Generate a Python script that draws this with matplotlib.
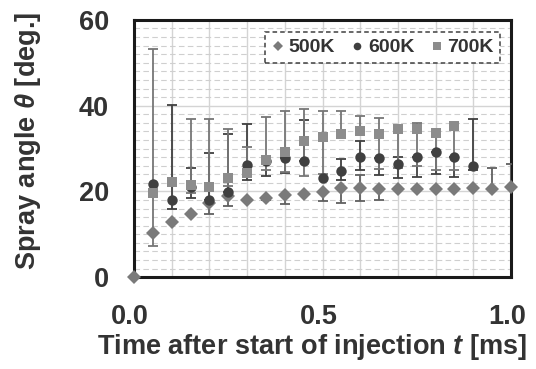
import matplotlib
matplotlib.use('Agg')
import matplotlib.pyplot as plt
import matplotlib.transforms as mtransforms
from matplotlib.lines import Line2D
import numpy as np

plt.rcParams['font.family'] = ['Liberation Sans', 'DejaVu Sans']
plt.rcParams['font.weight'] = 'bold'
plt.rcParams['mathtext.fontset'] = 'custom'
plt.rcParams['mathtext.it'] = 'Liberation Sans:italic:bold'
plt.rcParams['mathtext.rm'] = 'Liberation Sans:bold'

nan = np.nan

# time after start of injection [ms]
t = [0.0, 0.05, 0.10, 0.15, 0.20, 0.25, 0.30, 0.35, 0.40, 0.45, 0.50,
     0.55, 0.60, 0.65, 0.70, 0.75, 0.80, 0.85, 0.90, 0.95, 1.00]

# spray angle [deg.]
angle_500 = [0.0, 10.4, 12.8, 14.8, 17.3, 19.0, 18.0, 18.5, 19.1, 19.3, 19.8,
             20.9, 20.8, 20.5, 20.5, 20.5, 20.5, 20.5, 20.8, 20.5, 21.1]
angle_600 = [nan, 21.8, 17.9, 21.0, 17.9, 19.9, 26.1, 27.2, 27.9, 27.1, 23.1,
             24.8, 28.1, 27.9, 26.5, 28.1, 29.3, 28.1, 25.9, nan, nan]
angle_700 = [nan, 19.7, 22.3, 21.5, 21.1, 23.1, 24.4, 27.4, 29.3, 31.8, 32.7,
             33.5, 34.2, 33.5, 34.5, 34.5, 33.7, 35.3, nan, nan, nan]

# error bar ends (absolute values, nan = no bar on that side)
low_500 = [nan, nan, nan, nan, 14.8, 16.6, nan, 18.0, 17.0, nan, 17.8,
           17.3, 17.7, 18.0, nan, nan, nan, nan, nan, nan, nan]
high_500 = [nan, nan, nan, nan, nan, nan, nan, nan, nan, nan, nan,
            nan, 23.8, nan, nan, nan, nan, nan, nan, 25.5, 26.3]
low_600 = [nan, nan, 15.8, 18.5, nan, nan, 22.6, 23.6, 24.2, nan, nan,
           22.6, 25.0, 23.8, 23.2, 23.4, 24.0, 23.4, 25.0, nan, nan]
high_600 = [nan, nan, 40.2, 25.5, 28.9, 33.3, 35.8, nan, nan, 36.7, nan,
            27.5, 31.8, nan, 28.1, nan, nan, nan, 36.8, nan, nan]
low_700 = [nan, 7.2, nan, 19.7, nan, 21.3, nan, 25.0, 24.6, 23.6, 24.0,
           nan, nan, 25.2, 25.4, 25.9, 25.1, 25.1, nan, nan, nan]
high_700 = [nan, 53.2, nan, 36.8, 36.8, 34.5, 30.4, 37.3, 38.8, 39.3, 38.8,
            38.8, 37.7, 37.1, nan, 35.9, nan, nan, nan, nan, nan]

labels = ['500K', '600K', '700K']
markers = ['D', 'o', 's']
colors = ['#7a7a7a', '#404040', '#8c8c8c']
err_colors = ['#606060', '#404040', '#767676']
sizes = [7.5, 7.5, 7.5]

text_col = '#333333'

fig = plt.figure(figsize=(5.36, 3.69), dpi=100)
ax = fig.add_axes([0.25, 0.249, 0.7034, 0.697])

series = [(angle_500, low_500, high_500),
          (angle_600, low_600, high_600),
          (angle_700, low_700, high_700)]

x = np.array(t)
for i, (vals, lo, hi) in enumerate(series):
    y = np.array(vals)
    lo_err = np.nan_to_num(y - np.array(lo))
    hi_err = np.nan_to_num(np.array(hi) - y)
    m = (lo_err > 0) | (hi_err > 0)
    ax.errorbar(x[m], y[m], yerr=[lo_err[m], hi_err[m]], fmt='none',
                ecolor=err_colors[i], elinewidth=1.3, capsize=3.6,
                capthick=1.3, zorder=3)
for i, (vals, lo, hi) in enumerate(series):
    ax.plot(x, vals, ls='none', marker=markers[i], color=colors[i],
            ms=sizes[i], mew=0, zorder=4 + i, clip_on=False)

ax.set_xlim(0, 1.0)
ax.set_ylim(0, 60)
ax.set_xticks([0.0, 0.5, 1.0])
ax.set_xticklabels(['0.0', '0.5', '1.0'])
ax.set_xticks(np.arange(0, 1.001, 0.1), minor=True)
ax.set_yticks([0, 20, 40, 60])
ax.set_yticks(np.arange(0, 60.1, 2), minor=True)

ax.grid(which='major', color='#d4d4d4', lw=1.0, zorder=0)
ax.grid(which='minor', axis='x', color='#d4d4d4', lw=1.0, zorder=0)
ax.grid(which='minor', axis='y', color='#cfcfcf', lw=0.8, ls=(0, (5, 3)), zorder=0)
ax.set_axisbelow(True)

ax.tick_params(which='both', length=0)
ax.tick_params(axis='x', pad=19, labelsize=19.5, labelcolor=text_col)
ax.tick_params(axis='y', pad=18, labelsize=19.5, labelcolor=text_col)
shift = mtransforms.ScaledTranslation(-4 / 100, 0, fig.dpi_scale_trans)
for lab in ax.get_xticklabels():
    lab.set_fontweight('bold')
    lab.set_transform(lab.get_transform() + shift)
for lab in ax.get_yticklabels():
    lab.set_fontweight('bold')

for sp in ax.spines.values():
    sp.set_linewidth(2.2)
    sp.set_color('#1a1a1a')

fig.text(0.582, 0.06, 'Time after start of injection $\\mathit{t}$ [ms]',
         ha='center', va='center', fontsize=19.5, fontweight='bold', color=text_col)
fig.text(0.052, 0.618, 'Spray angle $\\mathit{\\theta}$ [deg.]',
         ha='center', va='center', rotation=90, fontsize=19.5,
         fontweight='bold', color=text_col)

handles = [Line2D([], [], ls='none', marker=markers[i], color=colors[i],
                  ms=sizes[i] - 2, mew=0) for i in range(3)]
leg = ax.legend(handles, labels, ncol=3, loc='upper right',
                bbox_to_anchor=(0.972, 0.953), borderaxespad=0,
                prop={'weight': 'bold', 'size': 14}, frameon=True,
                fancybox=False, handlelength=0.6, handletextpad=0.25,
                columnspacing=0.85, borderpad=0.35)
for txt in leg.get_texts():
    txt.set_color(text_col)
frame = leg.get_frame()
frame.set_edgecolor('#404040')
frame.set_linestyle((0, (3, 2)))
frame.set_linewidth(1.1)
frame.set_facecolor('white')
frame.set_alpha(1)

fig.savefig('out.png', dpi=100)
